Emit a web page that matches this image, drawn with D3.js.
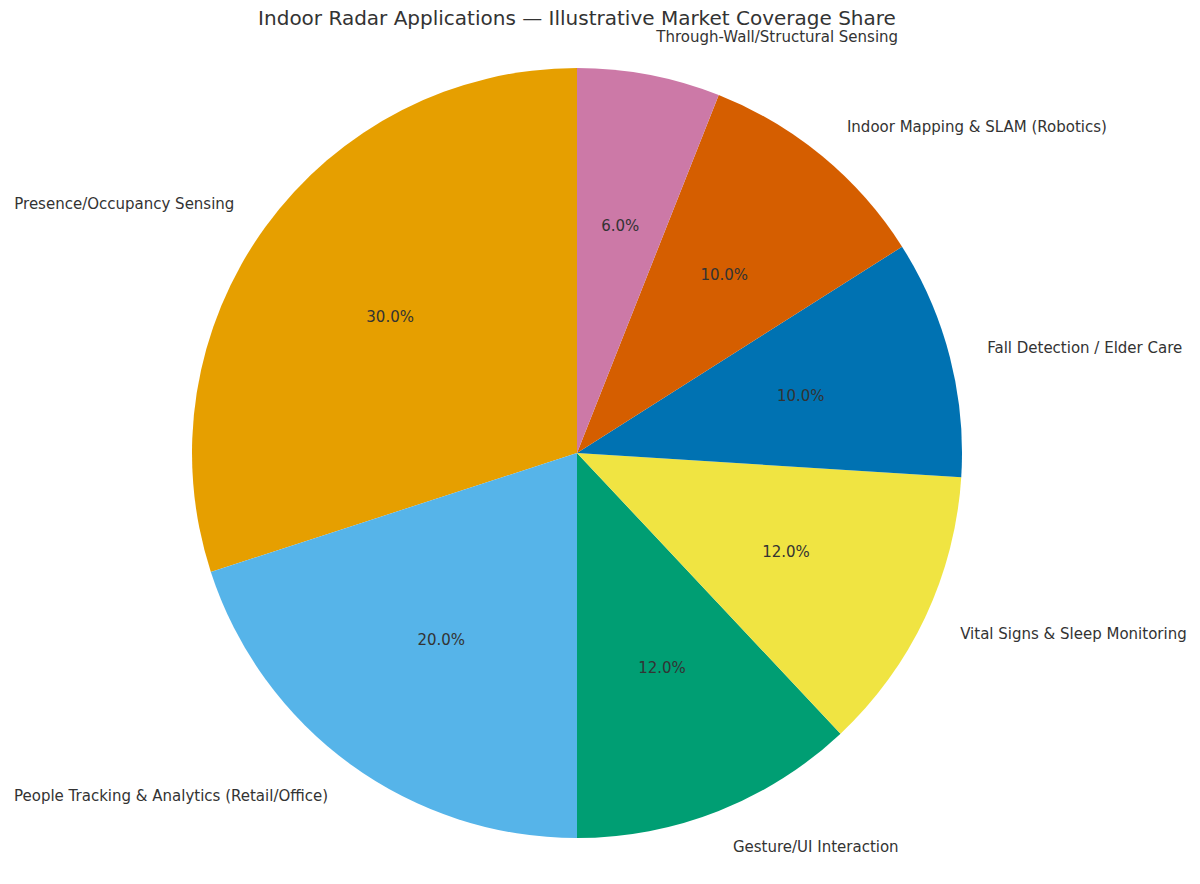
<!DOCTYPE html>
<html><head><meta charset="utf-8">
<script src="https://cdn.jsdelivr.net/npm/d3@7"></script>
<style>body{margin:0;background:#fff}text{font-family:"DejaVu Sans",sans-serif;fill:#333}</style>
</head><body>
<script>
// data, counterclockwise from the top
var labels = ["Presence/Occupancy Sensing","People Tracking & Analytics (Retail/Office)","Gesture/UI Interaction","Vital Signs & Sleep Monitoring","Fall Detection / Elder Care","Indoor Mapping & SLAM (Robotics)","Through-Wall/Structural Sensing"];
var values = [30,20,12,12,10,10,6];
var colors = ["#E69F00","#56B4E9","#009E73","#F0E442","#0072B2","#D55E00","#CC79A7"];

var W = 1200, H = 884, cx = 577, cy = 453, r = 385;
var svg = d3.select("body").append("svg").attr("width",W).attr("height",H);

svg.append("text").attr("x",577).attr("y",25).attr("text-anchor","middle")
  .style("font-size","20px").text("Indoor Radar Applications — Illustrative Market Coverage Share");

var pie = d3.pie().sort(null).startAngle(0).endAngle(-2*Math.PI);
var arcs = pie(values);
var arc = d3.arc().innerRadius(0).outerRadius(r);
var total = d3.sum(values);

var g = svg.append("g").attr("transform","translate("+cx+","+cy+")");
g.selectAll("path").data(arcs).enter().append("path")
  .attr("d",arc).attr("fill",function(d,i){return colors[i];});

function pos(d,k){
  var a = (d.startAngle+d.endAngle)/2;
  return [Math.sin(a)*r*k, -Math.cos(a)*r*k];
}
g.selectAll("text.pct").data(arcs).enter().append("text")
  .attr("x",function(d){return pos(d,0.6)[0];})
  .attr("y",function(d){return pos(d,0.6)[1];})
  .attr("text-anchor","middle").attr("dy","0.35em").style("font-size","15px")
  .text(function(d){return (d.value/total*100).toFixed(1)+"%";});

g.selectAll("text.lab").data(arcs).enter().append("text")
  .attr("x",function(d){return pos(d,1.1)[0];})
  .attr("y",function(d){return pos(d,1.1)[1];})
  .attr("text-anchor",function(d){return pos(d,1.1)[0]>0?"start":"end";})
  .attr("dy","0.35em").style("font-size","15px")
  .text(function(d,i){return labels[i];});
</script>
</body></html>
